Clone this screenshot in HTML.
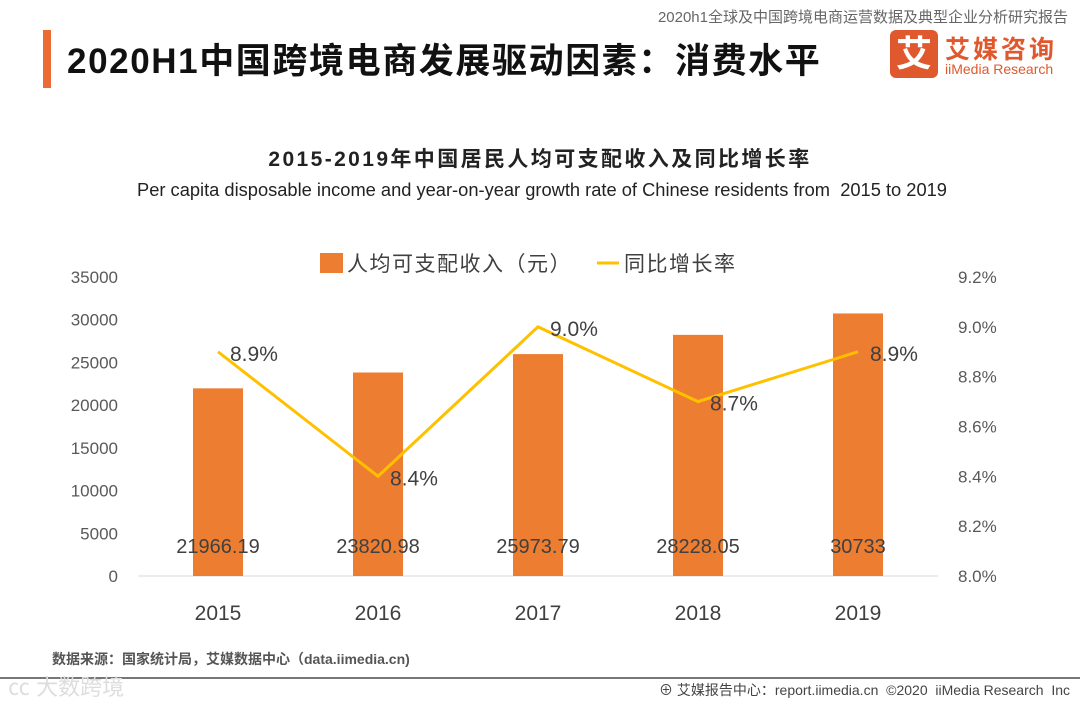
<!DOCTYPE html>
<html><head><meta charset="utf-8"><style>
body{margin:0;width:1080px;height:702px;background:#fff;overflow:hidden;font-family:"Liberation Sans","Noto Sans CJK SC",sans-serif;position:relative}
.a{position:absolute;white-space:nowrap}
</style></head><body>
<div class="a" style="right:12px;top:6px;font-size:15px;color:#666">2020h1全球及中国跨境电商运营数据及典型企业分析研究报告</div>
<div class="a" style="left:43px;top:30px;width:8px;height:58px;background:#ec6a35"></div>
<div class="a" style="left:67px;top:33px;font-size:35px;letter-spacing:1.6px;font-weight:bold;color:#111">2020H1中国跨境电商发展驱动因素：消费水平</div>
<div class="a" style="left:890px;top:30px;width:48px;height:48px;background:#e0582d;border-radius:6px;color:#fff;font-size:36px;line-height:48px;text-align:center;font-weight:bold">艾</div>
<div class="a" style="left:945px;top:30px;font-size:25px;letter-spacing:3px;color:#e0582d;font-weight:bold">艾媒咨询</div>
<div class="a" style="left:945px;top:61px;font-size:14px;color:#e0582d">iiMedia Research</div>
<div class="a" style="left:0;width:1080px;text-align:center;top:143px;font-size:21px;letter-spacing:2.4px;font-weight:bold;color:#222">2015-2019年中国居民人均可支配收入及同比增长率</div>
<div class="a" style="left:0;width:1084px;text-align:center;top:179px;font-size:18.3px;color:#222">Per capita disposable income and year-on-year growth rate of Chinese residents from&nbsp; 2015 to 2019</div>
<svg id="c" class="a" style="left:0;top:0" width="1080" height="702"></svg>
<div class="a" style="left:52px;top:649px;font-size:14px;font-weight:bold;color:#555">数据来源：国家统计局，艾媒数据中心（data.iimedia.cn)</div>
<div class="a" style="left:0;top:677px;width:1080px;height:2px;background:#777"></div>
<div class="a" style="left:8px;top:670px;font-size:22px;color:#ddd">㏄ 大数跨境</div>
<div class="a" style="right:10px;top:680px;font-size:14px;color:#444">⊕ 艾媒报告中心：report.iimedia.cn &nbsp;©2020 &nbsp;iiMedia Research &nbsp;Inc</div>
<script>
const years=['2015','2016','2017','2018','2019'];
const income=[21966.19,23820.98,25973.79,28228.05,30733];
const incomeLabels=['21966.19','23820.98','25973.79','28228.05','30733'];
const growth=[8.9,8.4,9.0,8.7,8.9];
const leftTicks=[0,5000,10000,15000,20000,25000,30000,35000];
const rightTicks=[8.0,8.2,8.4,8.6,8.8,9.0,9.2];
const svg=document.getElementById('c');const NS='http://www.w3.org/2000/svg';
const X0=138,X1=938,Y0=576,Y1=277;
const xs=i=>X0+(i+0.5)*(X1-X0)/years.length;
const yl=v=>Y0-v/35000*(Y0-Y1);
const yr=v=>Y0-(v-8)/1.2*(Y0-Y1);
function mk(t,a,txt){const e=document.createElementNS(NS,t);for(const k in a)e.setAttribute(k,a[k]);if(txt!=null)e.textContent=txt;svg.appendChild(e);return e;}
let e=mk('line',{x1:X0,x2:X1,y1:Y0,y2:Y0,stroke:'#d9d9d9'});

leftTicks.forEach(v=>{const t=mk('text',{x:118,y:yl(v)+6,'text-anchor':'end','font-size':17,fill:'#595959'},v);
});
rightTicks.forEach(v=>{const t=mk('text',{x:958,y:yr(v)+6,'font-size':17,fill:'#595959'},v.toFixed(1)+'%');
});
years.forEach((y,i)=>{
const b=mk('rect',{x:xs(i)-25,y:yl(income[i]),width:50,height:Y0-yl(income[i]),fill:'#ed7d31'});

const t=mk('text',{x:xs(i),y:620,'text-anchor':'middle','font-size':21,fill:'#404040'},y);

const v=mk('text',{x:xs(i),y:553,'text-anchor':'middle','font-size':20,fill:'#404040'},incomeLabels[i]);

});
const l=mk('polyline',{points:growth.map((g,i)=>xs(i)+','+yr(g)).join(' '),fill:'none',stroke:'#ffc000','stroke-width':3});

growth.forEach((g,i)=>{const t=mk('text',{x:xs(i)+12,y:yr(g)+9,'font-size':21,fill:'#404040'},g.toFixed(1)+'%');
});
let lg=mk('rect',{x:320,y:253,width:23,height:20,fill:'#ed7d31'});

lg=mk('text',{x:347,y:271,'font-size':21,'letter-spacing':1.5,fill:'#404040'},'人均可支配收入（元）');

lg=mk('line',{x1:597,x2:619,y1:263,y2:263,stroke:'#ffc000','stroke-width':3});

lg=mk('text',{x:624,y:271,'font-size':21,'letter-spacing':1.5,fill:'#404040'},'同比增长率');

</script>
</body></html>
